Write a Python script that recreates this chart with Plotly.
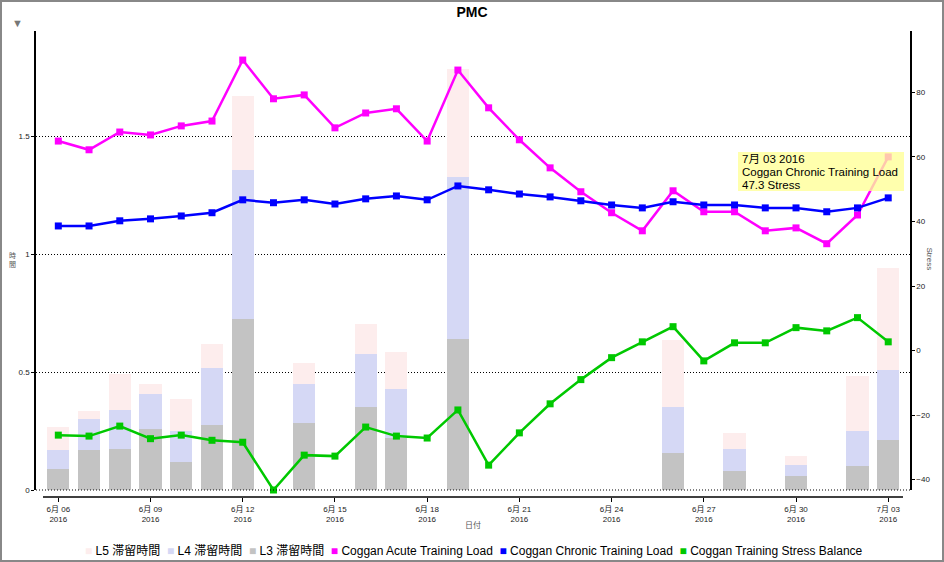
import plotly.graph_objects as go

dates = ["2016-06-%02d" % d for d in range(6, 31)] + ["2016-07-01", "2016-07-02", "2016-07-03"]

# zone times (hours) per day
l3 = [0.09, 0.17, 0.175, 0.26, 0.12, 0.275, 0.725, None, 0.285, None, 0.35, 0.22, None, 0.64,
      None, None, None, None, None, None, 0.155, None, 0.08, None, 0.06, None, 0.10, 0.21]
l4 = [0.08, 0.13, 0.165, 0.145, 0.13, 0.24, 0.63, None, 0.165, None, 0.225, 0.21, None, 0.685,
      None, None, None, None, None, None, 0.195, None, 0.095, None, 0.045, None, 0.15, 0.30]
l5 = [0.095, 0.035, 0.15, 0.045, 0.135, 0.105, 0.315, None, 0.09, None, 0.13, 0.155, None, 0.46,
      None, None, None, None, None, None, 0.285, None, 0.065, None, 0.04, None, 0.235, 0.43]

acute = [64.9, 62.2, 67.7, 66.8, 69.6, 71.1, 90.0, 78.0, 79.2, 69.0, 73.6, 74.9, 64.9, 86.9,
         75.2, 65.3, 56.6, 49.2, 42.7, 37.1, 49.5, 43.0, 43.0, 37.1, 38.0, 33.1, 42.0, 60.0]
chronic = [38.6, 38.6, 40.2, 40.8, 41.7, 42.7, 46.7, 45.8, 46.7, 45.4, 47.0, 47.9, 46.7, 51.0,
           49.8, 48.5, 47.6, 46.4, 45.1, 44.2, 46.1, 45.1, 45.1, 44.2, 44.2, 43.0, 44.2, 47.3]
tsb = [-26.2, -26.5, -23.4, -27.3, -26.2, -27.8, -28.4, -43.2, -32.4, -32.7, -23.7, -26.5, -27.1, -18.4,
       -35.5, -25.5, -16.5, -9.0, -2.2, 2.7, 7.4, -3.2, 2.4, 2.4, 7.1, 6.1, 10.2, 2.7]

bar_names = ["L3 滞留時間", "L4 滞留時間", "L5 滞留時間"]
bar_colors = ["#c3c3c3", "#d5d8f5", "#fdeded"]
line_names = ["Coggan Acute Training Load", "Coggan Chronic Training Load", "Coggan Training Stress Balance"]
line_colors = ["#ff00ff", "#0000ff", "#00c800"]

FONT = "Helvetica, Arial, 'Liberation Sans', 'Noto Sans CJK JP', sans-serif"

fig = go.Figure()
for name, vals, col in zip(bar_names, [l3, l4, l5], bar_colors):
    fig.add_trace(go.Bar(x=dates, y=vals, name=name, marker=dict(color=col, line=dict(width=0)),
                         yaxis="y", showlegend=False))
for name, vals, col in zip(line_names, [acute, chronic, tsb], line_colors):
    fig.add_trace(go.Scatter(x=dates, y=vals, name=name, mode="lines+markers", yaxis="y2",
                             line=dict(color=col, width=2.5),
                             marker=dict(symbol="square", size=7, color=col),
                             cliponaxis=False, showlegend=False))

W, H = 944, 562
L, R, T, B = 36, 34, 31, 65
pw, ph = W - L - R, H - T - B


def px(x):
    return (x - L) / pw


def py(y):
    return (H - B - y) / ph


ydom0 = 7 / ph

fig.update_layout(
    width=W, height=H,
    margin=dict(l=L, r=R, t=T, b=B, pad=0),
    paper_bgcolor="white", plot_bgcolor="white",
    barmode="stack", bargap=0.28,
    font=dict(family=FONT, size=8, color="#333"),
    title=dict(text="<b>PMC</b>", x=0.5, xanchor="center", y=1 - 12 / H, yanchor="middle",
               font=dict(size=14, color="black", family=FONT)),
    xaxis=dict(type="date", range=["2016-06-05 06:35", "2016-07-03 17:00"],
               anchor="free", position=0,
               tick0="2016-06-06", dtick=3 * 86400000, tickformat="%-m月 %d<br>%Y",
               ticks="outside", ticklen=4, tickcolor="black", showline=False, showgrid=False,
               zeroline=False, tickfont=dict(size=8, color="#222")),
    yaxis=dict(domain=[ydom0, 1], range=[0, 1.945], tickvals=[0, 0.5, 1, 1.5],
               ticktext=["0", "0.5", "1", "1.5"],
               showline=True, linecolor="black", linewidth=1.5, ticks="outside", ticklen=3,
               tickcolor="black", showgrid=True, gridcolor="black", gridwidth=1, griddash="1px,2px",
               zeroline=False, tickfont=dict(size=8, color="#222")),
    yaxis2=dict(domain=[ydom0, 1], range=[-43.2, 99.0], overlaying="y", side="right",
                tickvals=[-40, -20, 0, 20, 40, 60, 80],
                showline=True, linecolor="black", linewidth=1.5, ticks="outside", ticklen=3,
                tickcolor="black", showgrid=False, zeroline=False, tickfont=dict(size=8, color="#222")),
)

shapes = [
    # x axis line (inset)
    dict(type="line", xref="paper", yref="paper", x0=px(43), x1=px(903), y0=0, y1=0,
         line=dict(color="black", width=1.5)),
    # zero gridline
    dict(type="line", xref="paper", yref="paper", x0=0, x1=1, y0=ydom0, y1=ydom0,
         line=dict(color="black", width=1, dash="1px,2px")),
    # outer border
    dict(type="rect", xref="paper", yref="paper", x0=px(1), x1=px(943), y0=py(561), y1=py(1),
         line=dict(color="#888", width=2)),
    # tooltip box
    dict(type="rect", xref="paper", yref="paper", x0=px(738), x1=px(904), y0=py(191), y1=py(152),
         fillcolor="rgba(255,255,150,0.78)", line=dict(width=0), layer="above"),
]
fig.update_layout(shapes=shapes)

ann = []
ann.append(dict(text="▼", xref="paper", yref="paper", x=px(10), y=py(15), showarrow=False,
                font=dict(size=11, color="#777")))
ann.append(dict(text="日付", xref="paper", yref="paper", x=0.5, y=py(532), showarrow=False,
                font=dict(size=8, color="#555")))
ann.append(dict(text="時<br>間", xref="paper", yref="paper", x=px(7), y=py(260), showarrow=False,
                font=dict(size=7, color="#555")))
ann.append(dict(text="Stress", xref="paper", yref="paper", x=px(936), y=py(259), showarrow=False,
                textangle=90, font=dict(size=8, color="#555")))

for i, line in enumerate(["7月 03 2016", "Coggan Chronic Training Load", "47.3 Stress"]):
    ann.append(dict(text=line, xref="paper", yref="paper", x=px(740), y=py(158.5 + 13 * i),
                    xanchor="left", yanchor="middle", showarrow=False,
                    font=dict(size=11.5, color="black")))

leg_items = [("L5 滞留時間", "#fdeded"), ("L4 滞留時間", "#d5d8f5"), ("L3 滞留時間", "#c3c3c3"),
             ("Coggan Acute Training Load", "#ff00ff"), ("Coggan Chronic Training Load", "#0000ff"),
             ("Coggan Training Stress Balance", "#00c800")]
nb = "\u00a0"
leg_text = (nb * 2).join('<span style="color:%s">■</span>%s%s' % (c, nb, t) for t, c in leg_items)
ann.append(dict(text=leg_text, xref="paper", yref="paper", x=px(474.5), y=py(550),
                xanchor="center", yanchor="middle", showarrow=False,
                font=dict(size=12, color="black")))
fig.update_layout(annotations=ann)

fig.write_html("out.html")
